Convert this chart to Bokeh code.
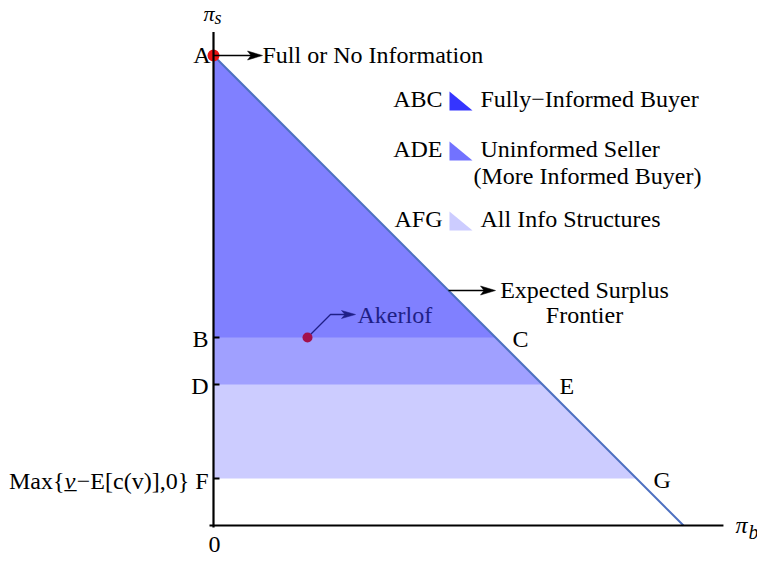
import math
from bokeh.plotting import figure
from bokeh.core.properties import value
from bokeh.embed import file_html
from bokeh.resources import INLINE

# ---------------- data ----------------
total_surplus = 1.0                      # frontier pi_s + pi_b = 1
frontier_x = [0.0, 1.0]
frontier_y = [1.0, 0.0]
level_names = ["B", "D", "F"]            # seller-profit levels on the pi_s axis
level_values = [0.4, 0.3, 0.1]
corner_names = ["C", "E", "G"]           # matching points on the frontier
region_names = ["ABC", "ADE", "AFG"]
region_desc = ["Fully−Informed Buyer", "Uninformed Seller", "All Info Structures"]
akerlof_point = (0.2, 0.4)
full_info_point = (0.0, 1.0)
frontier_label_y = 0.5
axis_x_max = 1.085
axis_y_max = 1.05

# ---------------- layout / style ----------------
S = 470.0                 # pixels per unit
OX, OY = 213.0, 525.0     # origin in canvas pixels
W, H = 757, 561
FONT = value("Liberation Serif")
BASE_FIX = -9             # baseline correction for text rendering

region_fill = {"AFG": "#ccccff", "ADE": "#a0a0ff", "ABC": "#8080ff"}
icon_fill = {"ABC": "#3535ff", "ADE": "#7272ff", "AFG": "#ccccff"}
frontier_color = "#4d70c0"
akerlof_color = "#a3104c"
akerlof_text_color = "#1f1f86"


def px(n):
    return n / S


p = figure(width=W, height=H,
           x_range=(-OX / S, (W - OX) / S),
           y_range=((OY - H) / S, OY / S),
           x_axis_type=None, y_axis_type=None,
           output_backend="svg", toolbar_location=None,
           min_border=0)
p.grid.visible = False
p.outline_line_color = None
p.background_fill_color = "white"
p.border_fill_color = "white"


def txt(x, y, s, xo=0, yo=0, align="left", size="24px", style="normal",
        color="black", baseline="alphabetic"):
    fix = BASE_FIX * float(size.replace("px", "")) / 24.0
    p.text(x=[x], y=[y], text=[s], x_offset=xo, y_offset=yo + fix,
           text_align=align, text_baseline=baseline, text_font=FONT,
           text_font_size=value(size), text_font_style=style,
           text_color=color)


def arrowhead(tx, ty, ang, color, L=15, hw=4.5, notch=3.5):
    dx, dy = math.cos(ang), math.sin(ang)
    bx, by = tx - px(L) * dx, ty - px(L) * dy
    nx, ny = tx - px(L - notch) * dx, ty - px(L - notch) * dy
    pxp, pyp = -dy, dx
    xs = [tx, bx + px(hw) * pxp, nx, bx - px(hw) * pxp]
    ys = [ty, by + px(hw) * pyp, ny, by - px(hw) * pyp]
    p.patch(xs, ys, fill_color=color, line_color=color, line_width=0.5)
    return nx, ny


# ---------------- regions (drawn widest first) ----------------
for name, lvl in sorted(zip(region_names, level_values), key=lambda t: t[1]):
    ax, ay = full_info_point
    xs = [ax, 0.0, total_surplus - lvl]
    ys = [ay, lvl, lvl]
    p.patch(xs, ys, fill_color=region_fill[name], line_color=None)

# frontier
p.line(frontier_x, frontier_y, line_color=frontier_color, line_width=2)

# Full / No information point
p.scatter([full_info_point[0]], [full_info_point[1]], size=12,
          fill_color="#ea1414", line_color=None)

# axes
p.line([0, 0], [-px(2), axis_y_max], line_color="black", line_width=2.2)
p.line([-px(4), axis_x_max], [0, 0], line_color="black", line_width=2.2)
p.ray(x=[0] * len(level_values), y=level_values, length=6,
      length_units="screen", angle=0, line_color="black", line_width=2)

# ---------------- arrows ----------------
# Full or No Information
fx, fy = full_info_point
tip = (fx + px(49), fy)
nx, ny = arrowhead(tip[0], tip[1], 0.0, "black")
p.line([fx, nx], [fy, ny], line_color="black", line_width=1.3)
txt(fx, fy, "Full or No Information", xo=49, yo=8)

# Expected surplus frontier
sx0 = total_surplus - frontier_label_y
sy0 = frontier_label_y
tip = (sx0 + px(47), sy0)
nx, ny = arrowhead(tip[0], tip[1], 0.0, "black")
p.line([sx0, nx], [sy0, ny], line_color="black", line_width=1.3)
txt(sx0, sy0, "Expected Surplus", xo=136, yo=8, align="center")
txt(sx0, sy0, "Frontier", xo=136, yo=33, align="center")

# Akerlof
kx, ky = akerlof_point
bend = (kx + px(23), ky + px(23))
tip = (bend[0] + px(25), bend[1])
nx, ny = arrowhead(tip[0], tip[1], 0.0, akerlof_text_color, L=14, hw=4)
p.line([kx, bend[0], nx], [ky, bend[1], ny], line_color=akerlof_text_color,
       line_width=1.3)
p.scatter([kx], [ky], size=10, fill_color=akerlof_color, line_color=None)
txt(kx, ky, "Akerlof", xo=50, yo=-14, color=akerlof_text_color)

# ---------------- point labels ----------------
txt(0, full_info_point[1], "A", xo=-3, yo=8, align="right")
for name, lvl in zip(level_names[:2], level_values[:2]):
    txt(0, lvl, name, xo=-5, yo=10, align="right")
# F label with formula
fl = level_values[2]
txt(0, fl, "−E[c(v)],0} F", xo=-5, yo=11, align="right")
txt(0, fl, "v", xo=-138, yo=11, align="right", style="italic")
txt(0, fl, "_", xo=-143, yo=10, align="center")
txt(0, fl, "Max{", xo=-149, yo=11, align="right")

for name, lvl in zip(corner_names, level_values):
    txt(total_surplus - lvl, lvl, name, xo=17, yo=10)

txt(0, 0, "0", xo=1, yo=28, align="center")

# axis titles
txt(0, axis_y_max, "π", xo=-10, yo=-10, style="italic", size="22px")
txt(0, axis_y_max, "s", xo=1, yo=-7, style="italic", size="18px")
txt(axis_x_max, 0, "π", xo=12, yo=8, style="italic")
txt(axis_x_max, 0, "b", xo=25, yo=14, style="italic", size="20px")

# ---------------- legend ----------------
LEG_X = (449 - 213) / S
LEG_Y = [(525 - 107) / S, (525 - 157) / S, (525 - 227) / S]
for name, desc, ly in zip(region_names, region_desc, LEG_Y):
    b = ly - px(3)
    p.patch([LEG_X, LEG_X, LEG_X + px(23)], [b, b + px(19), b],
            fill_color=icon_fill[name], line_color=None)
    txt(LEG_X, ly, name, xo=-7, align="right")
    txt(LEG_X, ly, desc, xo=31)
txt(LEG_X, LEG_Y[1], "(More Informed Buyer)", xo=24, yo=27)

open("out.html", "w").write(file_html(p, INLINE))
